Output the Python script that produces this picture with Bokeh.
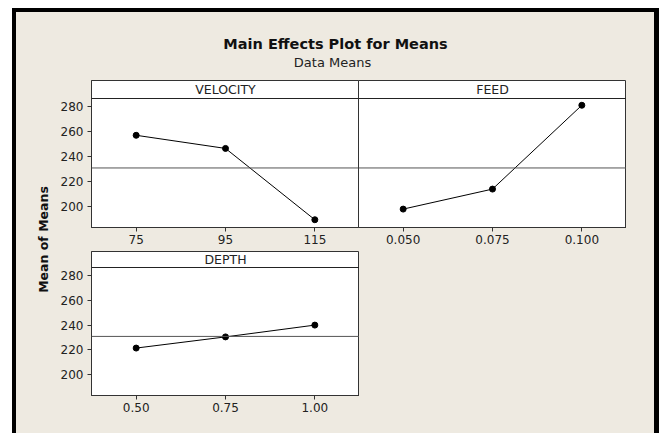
import math
from bokeh.plotting import figure
from bokeh.models import Range1d, Span, Label, FixedTicker, Spacer
from bokeh.layouts import row, column
from bokeh.embed import file_html
from bokeh.resources import INLINE

# ---- data ----
velocity_levels = [75, 95, 115]
velocity_means = [257.0, 246.5, 189.5]
velocity_tick_labels = ["75", "95", "115"]

feed_levels = [0.050, 0.075, 0.100]
feed_means = [198.0, 214.0, 281.0]
feed_tick_labels = ["0.050", "0.075", "0.100"]

depth_levels = [0.50, 0.75, 1.00]
depth_means = [221.5, 230.5, 240.0]
depth_tick_labels = ["0.50", "0.75", "1.00"]

y_ticks = [200, 220, 240, 260, 280]

all_means = velocity_means + feed_means + depth_means
grand_mean = sum(all_means) / len(all_means)

# ---- style ----
BEIGE = "#EEEAE1"
FONT = "DejaVu Sans"
Y_LO, Y_HI = 183.3, 286.4


def panel(levels, means, tick_labels, x_lo, x_hi, strip, width, height,
          left, bottom, strip_px, show_y, styles=None):
    frame_h = height - bottom
    scale = (frame_h - strip_px) / (Y_HI - Y_LO)
    y_end = Y_HI + strip_px / scale
    kw = {}
    if styles:
        kw["styles"] = styles
    p = figure(width=width, height=height, x_range=Range1d(x_lo, x_hi),
               y_range=Range1d(Y_LO, y_end), output_backend="svg",
               toolbar_location=None, title=None,
               min_border_left=left, min_border_right=0,
               min_border_top=0, min_border_bottom=bottom,
               y_axis_location="left" if show_y else None, **kw)
    p.background_fill_color = "white"
    p.border_fill_color = BEIGE
    p.outline_line_color = "#333333"
    p.outline_line_width = 1
    p.xgrid.visible = False
    p.ygrid.visible = False

    p.xaxis.ticker = FixedTicker(ticks=levels)
    p.xaxis.major_label_overrides = {lv: lb for lv, lb in zip(levels, tick_labels)}
    axes = list(p.xaxis) + (list(p.yaxis) if show_y else [])
    for ax in axes:
        ax.axis_line_color = "#333333"
        ax.major_tick_line_color = "#333333"
        ax.major_tick_out = 4
        ax.major_tick_in = 0
        ax.minor_tick_out = 0
        ax.minor_tick_in = 0
        ax.major_label_text_font = FONT
        ax.major_label_text_font_size = "12px"
        ax.major_label_text_color = "#222222"
    p.xaxis.major_label_standoff = 3
    if show_y:
        p.yaxis.ticker = FixedTicker(ticks=y_ticks)
        p.yaxis.major_label_standoff = 4

    p.add_layout(Span(location=grand_mean, dimension="width",
                      line_color="#555555", line_width=1))
    p.add_layout(Span(location=Y_HI, dimension="width",
                      line_color="#222222", line_width=1))
    p.add_layout(Label(x=(x_lo + x_hi) / 2, y=(Y_HI + y_end) / 2, text=strip,
                       text_align="center", text_baseline="middle",
                       text_font=FONT, text_font_size="12.5px",
                       text_color="#222222"))
    p.line(levels, means, line_color="black", line_width=1)
    p.scatter(levels, means, size=6, color="black")
    return p


vel = panel(velocity_levels, velocity_means, velocity_tick_labels, 65, 125,
            "VELOCITY", 303, 171, 35, 24, 18, True)
feed = panel(feed_levels, feed_means, feed_tick_labels, 0.0375, 0.1125,
             "FEED", 268, 171, 0, 24, 18, False, styles={"margin-left": "-1px"})
depth = panel(depth_levels, depth_means, depth_tick_labels, 0.375, 1.125,
              "DEPTH", 303, 182, 35, 38, 16, True)


def blank(width, height):
    p = figure(width=width, height=height, x_range=Range1d(0, width),
               y_range=Range1d(0, height), output_backend="svg",
               toolbar_location=None, title=None,
               x_axis_location=None, y_axis_location=None,
               min_border=0)
    p.xgrid.visible = False
    p.ygrid.visible = False
    p.outline_line_color = None
    p.background_fill_color = BEIGE
    p.border_fill_color = BEIGE
    return p


title_plot = blank(638, 68)
title_plot.add_layout(Label(x=319, y=37, text="Main Effects Plot for Means",
                            text_align="center", text_baseline="middle",
                            text_font=FONT, text_font_style="bold",
                            text_font_size="14.5px", text_color="#111111"))
title_plot.add_layout(Label(x=316, y=18, text="Data Means",
                            text_align="center", text_baseline="middle",
                            text_font=FONT, text_font_size="13px",
                            text_color="#222222"))

ylab_plot = blank(40, 353)
ylab_plot.add_layout(Label(x=27, y=194, text="Mean of Means", angle=math.pi / 2,
                           text_align="center", text_baseline="middle",
                           text_font=FONT, text_font_style="bold",
                           text_font_size="12.5px", text_color="#111111"))

body = row(ylab_plot, column(row(vel, feed), depth))
inner = column(title_plot, body, styles={
    "border-left": "4px solid black",
    "border-top": "4px solid black",
    "border-right": "5px solid black",
    "background-color": BEIGE,
})
root = column(Spacer(width=10, height=8), row(Spacer(width=12, height=10), inner))

open("out.html", "w").write(file_html(root, INLINE))
